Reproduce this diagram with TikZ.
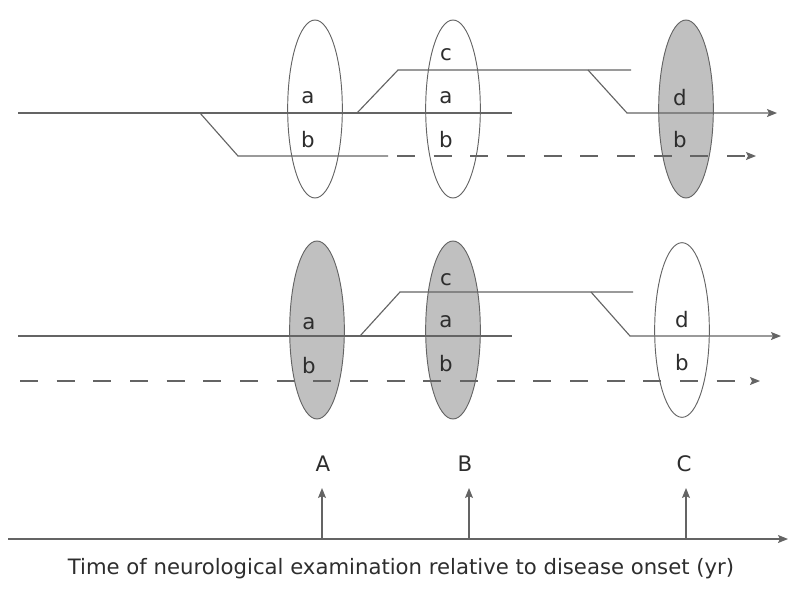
\documentclass[tikz,border=0pt]{standalone}
\usepackage{fontspec}
\setmainfont{DejaVu Sans}
\usepackage{xcolor}
\usepackage{tikz}
\usetikzlibrary{shapes, arrows.meta}
\definecolor{linegray}{RGB}{100,100,100}
\definecolor{shadegray}{RGB}{192,192,192}
\definecolor{textgray}{RGB}{45,45,45}

\begin{document}
\begin{tikzpicture}[x=0.75pt, y=-0.75pt, >={Stealth[length=7.5pt, width=6pt, inset=1.5pt]}]
    \tikzstyle{line}=[draw=linegray, line width=0.85pt]
    \tikzstyle{dashline}=[line, dash pattern=on 13.5pt off 14pt]
    \tikzstyle{exam}=[ellipse, draw=linegray, line width=0.7pt, minimum width=41pt, minimum height=133.5pt, inner sep=0pt]
    \tikzstyle{shaded}=[exam, fill=shadegray]
    \tikzstyle{lbl}=[font=\fontsize{16}{19}\selectfont, text=textgray, inner sep=0pt]
    \useasboundingbox (0,0) rectangle (800,601);

    % upper panel
    \node[exam] (u1) at (315,109) {};
    \node[exam] (u2) at (453,109) {};
    \node[shaded] (u3) at (686,109) {};

    \coordinate (ua0) at (18,113);
    \coordinate (ua1) at (512,113);
    \coordinate (ub0) at (200,113);
    \coordinate (ub1) at (238,156);
    \coordinate (ub2) at (388,156);
    \coordinate (ub3) at (397,156);
    \coordinate (ub4) at (756,156);
    \coordinate (uc0) at (357,113);
    \coordinate (uc1) at (398,70);
    \coordinate (uc2) at (631,70);
    \coordinate (ud0) at (588,70);
    \coordinate (ud1) at (627,113);
    \coordinate (ud2) at (777,113);

    \draw[line] (ua0) -- (ua1);
    \draw[line] (ub0) -- (ub1) -- (ub2);
    \draw[dashline, ->] (ub3) -- (ub4);
    \draw[line] (uc0) -- (uc1) -- (uc2);
    \draw[line, ->] (ud0) -- (ud1) -- (ud2);

    \node[lbl] (u1a) at (308,98) {a};
    \node[lbl] (u1b) at (308,140) {b};
    \node[lbl] (u2c) at (446,55) {c};
    \node[lbl] (u2a) at (446,98) {a};
    \node[lbl] (u2b) at (446,140) {b};
    \node[lbl] (u3d) at (680,98) {d};
    \node[lbl] (u3b) at (680,140) {b};

    % lower panel
    \node[shaded] (l1) at (317,330) {};
    \node[shaded] (l2) at (453,330) {};
    \node[exam, minimum height=131pt] (l3) at (682,330) {};

    \coordinate (la0) at (18,336);
    \coordinate (la1) at (512,336);
    \coordinate (lb0) at (20,381);
    \coordinate (lb1) at (760,381);
    \coordinate (lc0) at (360,336);
    \coordinate (lc1) at (400,292);
    \coordinate (lc2) at (633,292);
    \coordinate (ld0) at (591,292);
    \coordinate (ld1) at (630,336);
    \coordinate (ld2) at (781,336);

    \draw[line] (la0) -- (la1);
    \draw[dashline, ->] (lb0) -- (lb1);
    \draw[line] (lc0) -- (lc1) -- (lc2);
    \draw[line, ->] (ld0) -- (ld1) -- (ld2);

    \node[lbl] (l1a) at (309,324) {a};
    \node[lbl] (l1b) at (309,366) {b};
    \node[lbl] (l2c) at (446,280) {c};
    \node[lbl] (l2a) at (446,322) {a};
    \node[lbl] (l2b) at (446,364) {b};
    \node[lbl] (l3d) at (682,320) {d};
    \node[lbl] (l3b) at (682,363) {b};

    % time axis
    \coordinate (t0) at (8,539);
    \coordinate (t1) at (788,539);
    \draw[line, ->] (t0) -- (t1);

    \node[lbl] (A) at (323,464) {A};
    \node[lbl] (B) at (465,464) {B};
    \node[lbl] (C) at (684,464) {C};
    \coordinate (pA) at (322,539);
    \coordinate (pB) at (469,539);
    \coordinate (pC) at (686,539);
    \coordinate (qA) at (322,488);
    \coordinate (qB) at (469,488);
    \coordinate (qC) at (686,488);
    \draw[line, ->] (pA) -- (qA);
    \draw[line, ->] (pB) -- (qB);
    \draw[line, ->] (pC) -- (qC);

    \node[lbl, font=\fontsize{15.9}{19}\selectfont] (caption) at (401,569)
        {Time of neurological examination relative to disease onset (yr)};
\end{tikzpicture}
\end{document}
